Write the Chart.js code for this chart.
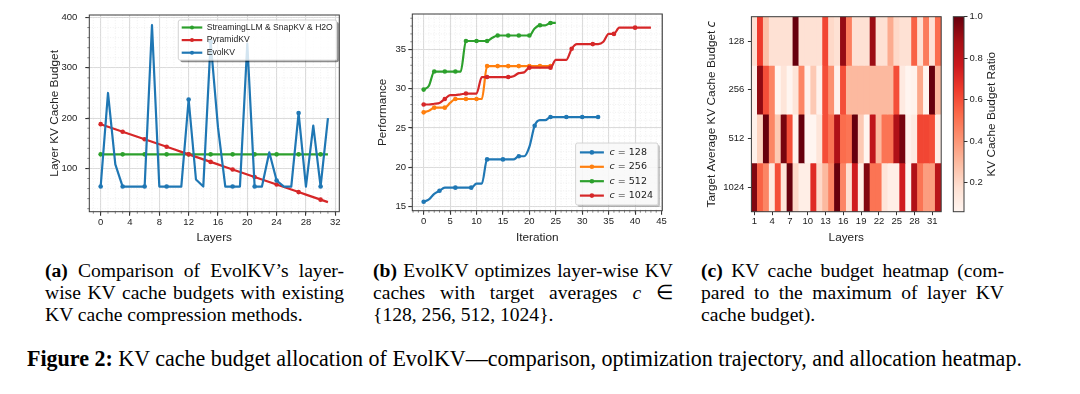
<!DOCTYPE html>
<html>
<head>
<meta charset="utf-8">
<script src="https://cdn.jsdelivr.net/npm/chart.js@4.4.0/dist/chart.umd.min.js"></script>
<style>
  body { margin: 0; width: 1080px; height: 394px; background: #fff; position: relative; overflow: hidden; }
  canvas { position: absolute; top: 0; }
  .cap { position: absolute; white-space: nowrap; font-family: "Liberation Serif", "Times New Roman", serif;
         font-size: 19.6px; line-height: 22px; color: #000; }
  .cap.fit { line-height: 26px; }
</style>
</head>
<body>
<canvas id="chartA" width="320" height="245" style="left:30px"></canvas>
<canvas id="chartB" width="310" height="245" style="left:360px"></canvas>
<canvas id="chartC" width="260" height="245" style="left:690px"></canvas>
<canvas id="chartCB" width="135" height="245" style="left:945px"></canvas>

<div class="cap just" data-w="299" style="left:45px;top:260px"><b>(a)</b> Comparison of EvolKV’s layer-</div>
<div class="cap just" data-w="299" style="left:45px;top:282px">wise KV cache budgets with existing</div>
<div class="cap" style="left:45px;top:304px">KV cache compression methods.</div>

<div class="cap just" data-w="300" style="left:373px;top:260px"><b>(b)</b> EvolKV optimizes layer-wise KV</div>
<div class="cap just" data-w="300" style="left:373px;top:282px">caches with target averages <i>c</i> ∈</div>
<div class="cap" style="left:373px;top:304px">{128, 256, 512, 1024}.</div>

<div class="cap just" data-w="303" style="left:701px;top:260px"><b>(c)</b> KV cache budget heatmap (com-</div>
<div class="cap just" data-w="303" style="left:701px;top:282px">pared to the maximum of layer KV</div>
<div class="cap" style="left:701px;top:304px">cache budget).</div>

<div class="cap fit" data-w="995" style="left:27px;top:346px"><b>Figure 2:</b> KV cache budget allocation of EvolKV—comparison, optimization trajectory, and allocation heatmap.</div>

<script>
// ---------------- DATA ----------------

// (a) layer-wise budgets
const layerIdx = [0, 1, 2, 3, 4, 5, 6, 7, 8, 9, 10, 11, 12, 13, 14, 15,
                  16, 17, 18, 19, 20, 21, 22, 23, 24, 25, 26, 27, 28, 29, 30, 31];
const streamingBudget = [128, 128, 128, 128, 128, 128, 128, 128, 128, 128, 128, 128, 128, 128, 128, 128,
                         128, 128, 128, 128, 128, 128, 128, 128, 128, 128, 128, 128, 128, 128, 128, 128];
const pyramidBudget = [188, 183, 178, 173, 168, 163, 158, 153, 148, 143, 138, 133, 128, 123, 118, 113,
                       108, 103, 98, 93, 88, 83, 78, 73, 68, 63, 58, 53, 48, 43, 38, 33];
const evolBudget = [64, 250, 108, 64, 64, 64, 64, 385, 64, 64, 64, 64, 237, 78, 64, 352,
                    182, 64, 64, 64, 348, 64, 64, 132, 76, 64, 64, 210, 64, 185, 64, 200];
const xTicksA = [0, 4, 8, 12, 16, 20, 24, 28, 32];
const yTicksA = [100, 200, 300, 400];

// (b) performance per iteration
const perf128 = [15.6, 15.9, 16.6, 17.0, 17.4, 17.4, 17.4, 17.4, 17.4, 17.4, 17.9, 17.9, 21.0, 21.0, 21.0, 21.0,
                 21.0, 21.0, 21.4, 21.4, 22.6, 25.3, 26.0, 26.0, 26.4, 26.4, 26.4, 26.4, 26.4, 26.4, 26.4, 26.4,
                 26.4, 26.4];
const perf256 = [27.0, 27.2, 27.6, 27.6, 27.6, 28.2, 28.7, 28.7, 28.7, 28.7, 28.7, 28.7, 32.9, 32.9, 32.9, 32.9,
                 32.9, 32.9, 32.9, 32.9, 32.9, 32.9, 32.9, 32.9, 32.9];
const perf512 = [29.9, 30.4, 32.2, 32.2, 32.2, 32.2, 32.2, 32.2, 36.1, 36.1, 36.1, 36.1, 36.1, 36.5, 36.8, 36.8,
                 36.8, 36.8, 36.8, 36.8, 36.8, 37.7, 38.1, 38.1, 38.4, 38.4];
const perf1024 = [28.0, 28.0, 28.1, 28.2, 28.7, 29.2, 29.2, 29.3, 29.4, 29.4, 29.4, 31.5, 31.5, 31.5, 31.5, 31.5,
                  31.5, 31.6, 32.0, 32.1, 32.7, 32.7, 32.7, 32.7, 32.7, 33.7, 33.7, 33.7, 35.1, 35.7, 35.7, 35.7,
                  35.7, 35.7, 36.0, 37.0, 37.0, 37.8, 37.8, 37.8, 37.8, 37.8, 37.8, 37.8];
const xTicksB = [0, 5, 10, 15, 20, 25, 30, 35, 40, 45];
const yTicksB = [15, 20, 25, 30, 35];

// (c) budget ratio heatmap
const budgets = ['128', '256', '512', '1024'];
const heatLayers = ['1', '2', '3', '4', '5', '6', '7', '8', '9', '10', '11', '12', '13', '14', '15', '16',
                    '17', '18', '19', '20', '21', '22', '23', '24', '25', '26', '27', '28', '29', '30', '31', '32'];
const ratio128 = [0.17, 0.65, 0.28, 0.17, 0.17, 0.17, 0.17, 1.00, 0.17, 0.17, 0.17, 0.17, 0.62, 0.20, 0.17, 0.91,
                  0.47, 0.17, 0.17, 0.17, 0.90, 0.17, 0.17, 0.34, 0.20, 0.17, 0.17, 0.55, 0.17, 0.48, 0.17, 0.52];
const ratio256 = [0.08, 0.92, 0.60, 0.45, 0.06, 0.15, 0.06, 0.15, 0.45, 0.08, 0.25, 0.08, 0.60, 0.42, 0.08, 0.60,
                  0.30, 0.30, 0.30, 0.30, 0.30, 0.30, 0.30, 0.30, 0.60, 0.12, 0.06, 0.07, 0.35, 0.05, 1.00, 0.30];
const ratio512 = [0.08, 0.22, 1.00, 0.45, 0.25, 0.97, 0.60, 0.07, 1.00, 0.05, 0.05, 0.15, 0.60, 0.50, 0.85, 0.52,
                  0.50, 1.00, 0.25, 0.05, 0.80, 0.30, 0.50, 0.50, 0.85, 0.97, 0.08, 0.12, 0.62, 0.62, 0.60, 0.10];
const ratio1024 = [0.95, 0.55, 0.45, 0.12, 0.60, 0.15, 1.00, 0.20, 0.10, 0.10, 0.70, 0.20, 0.30, 0.45, 1.00, 0.45,
                   0.18, 0.75, 0.10, 0.95, 0.50, 0.50, 0.15, 0.10, 0.10, 0.75, 0.06, 0.85, 0.50, 0.38, 0.38, 0.82];
const cbRange = [0.06, 1.0];
const cbTicks = [0.2, 0.4, 0.6, 0.8, 1.0];


// ---------------- HELPERS ----------------

const SANS = '"Liberation Sans", Arial, sans-serif';
const MATH = '"DejaVu Sans", sans-serif';
const TICK = 9.5, TITLE = 11.8;

Chart.defaults.font.family = SANS;
Chart.defaults.color = '#222';
Chart.defaults.animation = false;
Chart.defaults.plugins.legend.display = false;
Chart.defaults.plugins.tooltip.enabled = false;

// matplotlib "Reds"
const redsStops = ['#fff5f0', '#fee0d2', '#fcbba1', '#fc9272', '#fb6a4a', '#ef3b2c', '#cb181d', '#a50f15', '#67000d'];
function hexRgb(h) { return [1, 3, 5].map(i => parseInt(h.substr(i, 2), 16)); }
function reds(t) {
  t = Math.min(1, Math.max(0, t));
  const pos = t * (redsStops.length - 1);
  const i = Math.min(redsStops.length - 2, Math.floor(pos));
  const f = pos - i;
  const a = hexRgb(redsStops[i]), b = hexRgb(redsStops[i + 1]);
  const c = a.map((v, k) => Math.round(v + (b[k] - v) * f));
  return `rgb(${c[0]}, ${c[1]}, ${c[2]})`;
}
const ratioColor = v => reds((v - cbRange[0]) / (cbRange[1] - cbRange[0]));

// axes frame (all four spines)
const mplFrame = {
  id: 'mplFrame',
  afterDatasetsDraw(chart) {
    const { ctx, chartArea: a } = chart;
    ctx.save();
    ctx.strokeStyle = '#3a3a3a';
    ctx.lineWidth = 1;
    ctx.strokeRect(a.left, a.top, a.right - a.left, a.bottom - a.top);
    ctx.restore();
  }
};

// dotted minor grid + minor tick marks
const mplMinor = {
  id: 'mplMinor',
  beforeDatasetsDraw(chart, args, o) {
    if (!o.x) return;
    const { ctx, chartArea: a, scales } = chart;
    const vals = (s, step) => {
      const out = [];
      for (let k = Math.ceil(s.min / step); k * step <= s.max; k++) out.push(k * step);
      return out;
    };
    const xs = vals(scales.x, o.x).map(v => scales.x.getPixelForValue(v));
    const ys = vals(scales.y, o.y).map(v => scales.y.getPixelForValue(v));
    ctx.save();
    ctx.strokeStyle = '#e6e6e6';
    ctx.lineWidth = 0.6;
    ctx.setLineDash([1, 1.6]);
    ctx.beginPath();
    xs.forEach(x => { ctx.moveTo(x, a.top); ctx.lineTo(x, a.bottom); });
    ys.forEach(y => { ctx.moveTo(a.left, y); ctx.lineTo(a.right, y); });
    ctx.stroke();
    ctx.setLineDash([]);
    ctx.strokeStyle = '#555';
    ctx.lineWidth = 0.7;
    ctx.beginPath();
    xs.forEach(x => { ctx.moveTo(x, a.bottom); ctx.lineTo(x, a.bottom + 2); });
    ys.forEach(y => { ctx.moveTo(a.left, y); ctx.lineTo(a.left - 2, y); });
    ctx.stroke();
    ctx.restore();
  }
};

// matplotlib-like legend box inside the axes
const mplLegend = {
  id: 'mplLegend',
  afterDatasetsDraw(chart, args, o) {
    if (!o.size) return;
    const { ctx, chartArea: a } = chart;
    const items = chart.data.datasets;
    const reg = `${o.size}px ${o.family}`, ita = `italic ${o.size}px ${o.family}`;
    ctx.save();
    const textW = it => {
      if (!o.mathC) { ctx.font = reg; return ctx.measureText(it.label).width; }
      ctx.font = ita; const w1 = ctx.measureText(it.label[0]).width;
      ctx.font = reg; return w1 + ctx.measureText(it.label.slice(1)).width;
    };
    const tw = Math.max(...items.map(textW));
    const w = o.padL + o.handle + o.gap + tw + o.padR;
    const h = items.length * o.rowH + 2 * o.padV;
    const x = a.right - o.dx - w;
    const y = o.corner === 'upper' ? a.top + o.dy : a.bottom - o.dy - h;

    // shadow, only outside the box
    ctx.save();
    ctx.beginPath();
    ctx.rect(0, 0, chart.width, chart.height);
    ctx.rect(x, y, w, h);
    ctx.clip('evenodd');
    ctx.fillStyle = o.shadow;
    ctx.beginPath(); ctx.roundRect(x + 2, y + 2, w, h, 2); ctx.fill();
    ctx.restore();

    ctx.fillStyle = o.fill;
    ctx.strokeStyle = o.edge;
    ctx.lineWidth = 0.8;
    ctx.beginPath(); ctx.roundRect(x, y, w, h, 2); ctx.fill(); ctx.stroke();

    items.forEach((it, i) => {
      const cy = y + o.padV + o.rowH * (i + 0.5);
      const hx = x + o.padL;
      ctx.strokeStyle = it.borderColor;
      ctx.lineWidth = it.borderWidth;
      ctx.beginPath(); ctx.moveTo(hx, cy); ctx.lineTo(hx + o.handle, cy); ctx.stroke();
      ctx.fillStyle = it.borderColor;
      ctx.beginPath(); ctx.arc(hx + o.handle / 2, cy, o.marker, 0, 2 * Math.PI); ctx.fill();
      ctx.fillStyle = '#222';
      ctx.textBaseline = 'middle';
      ctx.textAlign = 'left';
      let tx = hx + o.handle + o.gap;
      if (o.mathC) {
        ctx.font = ita; ctx.fillText(it.label[0], tx, cy);
        tx += ctx.measureText(it.label[0]).width;
        ctx.font = reg; ctx.fillText(it.label.slice(1), tx, cy);
      } else {
        ctx.font = reg; ctx.fillText(it.label, tx, cy);
      }
    });
    ctx.restore();
  }
};

// rotated axis label made of plain / italic parts
const sideLabel = {
  id: 'sideLabel',
  afterDraw(chart, args, o) {
    if (!o.parts) return;
    const { ctx, chartArea: a } = chart;
    ctx.save();
    ctx.translate(o.x, (a.top + a.bottom) / 2);
    ctx.rotate(-Math.PI / 2);
    ctx.textBaseline = 'middle';
    ctx.textAlign = 'left';
    ctx.fillStyle = '#222';
    const parts = o.parts.map(p => ({
      text: p.text,
      font: p.italic ? `italic ${o.size}px ${MATH}` : `${o.size}px ${SANS}`
    }));
    let total = 0;
    parts.forEach(p => { ctx.font = p.font; p.w = ctx.measureText(p.text).width; total += p.w; });
    let tx = -total / 2;
    parts.forEach(p => { ctx.font = p.font; ctx.fillText(p.text, tx, 0); tx += p.w; });
    ctx.restore();
  }
};

function lineSet(label, xs, ys, color, markEvery, order, smooth) {
  return {
    label: label,
    data: ys.map((v, i) => ({ x: xs ? xs[i] : i, y: v })),
    borderColor: color,
    backgroundColor: color,
    pointBackgroundColor: color,
    borderWidth: 2.2,
    borderJoinStyle: 'round',
    pointBorderWidth: 0,
    pointRadius: ctx => (ctx.dataIndex % ctx.dataset.markEvery === 0 ? 2.3 : 0),
    markEvery: markEvery,
    order: order,
    tension: 0,
    cubicInterpolationMode: smooth ? 'monotone' : 'default'
  };
}

function lineChart(id, datasets, o) {
  return new Chart(document.getElementById(id), {
    type: 'line',
    data: { datasets: datasets },
    options: {
      responsive: false,
      devicePixelRatio: 1,
      layout: { padding: { left: 0, right: o.padR, top: o.padT, bottom: 0 } },
      scales: {
        x: {
          type: 'linear', min: o.xMin, max: o.xMax,
          afterBuildTicks: s => { s.ticks = o.xTicks.map(v => ({ value: v })); },
          afterFit: s => { s.height = o.xH; },
          ticks: { font: { size: TICK }, padding: o.xPad, maxRotation: 0, autoSkip: false },
          grid: { color: '#dadada', lineWidth: 1.1, tickColor: '#333', tickLength: 4 },
          border: { display: false },
          title: { display: true, text: o.xTitle, color: '#222', font: { size: TITLE }, padding: { top: 1.9, bottom: 0 } }
        },
        y: {
          type: 'linear', min: o.yMin, max: o.yMax,
          afterBuildTicks: s => { s.ticks = o.yTicks.map(v => ({ value: v })); },
          afterFit: s => { s.width = o.yW; },
          ticks: { font: { size: TICK }, padding: o.yPad, autoSkip: false },
          grid: { color: '#dadada', lineWidth: 1.1, tickColor: '#333', tickLength: 4 },
          border: { display: false },
          title: { display: true, text: o.yTitle, color: '#222', font: { size: TITLE }, padding: { top: o.yTitlePad, bottom: 0 } }
        }
      },
      plugins: {
        mplMinor: o.minor,
        mplLegend: o.legend
      }
    },
    plugins: [mplMinor, mplFrame, mplLegend]
  });
}


// ------------ (a) LAYER BUDGETS ------------------

lineChart('chartA', [
  lineSet('StreamingLLM & SnapKV & H2O', layerIdx, streamingBudget, '#2ca02c', 3, 3, false),
  lineSet('PyramidKV', layerIdx, pyramidBudget, '#d62728', 3, 2, false),
  lineSet('EvolKV', layerIdx, evolBudget, '#1f77b4', 3, 1, false)
], {
  padR: 10.7, padT: 15, xH: 33.3, yW: 59.3,
  xMin: -1.55, xMax: 32.55, yMin: 14, yMax: 405,
  xTicks: xTicksA, yTicks: yTicksA,
  xPad: 0.5, yPad: 8, yTitlePad: 17.9,
  xTitle: 'Layers', yTitle: 'Layer KV Cache Budget',
  minor: { x: 1, y: 20 },
  legend: { corner: 'upper', family: SANS, size: 8.6, padL: 3.4, handle: 20.6, gap: 4.4, padR: 4, rowH: 12.6, padV: 1.2,
            marker: 2, dx: 2.5, dy: 5, fill: 'rgba(255,255,255,0.8)', edge: '#c8c8c8', shadow: 'rgba(0,0,0,0.45)' }
});


// ------------ (b) OPTIMIZATION TRAJECTORY ------------------

lineChart('chartB', [
  lineSet('c = 128', null, perf128, '#1f77b4', 3, 4, true),
  lineSet('c = 256', null, perf256, '#ff7f0e', 2, 3, true),
  lineSet('c = 512', null, perf512, '#2ca02c', 2, 2, true),
  lineSet('c = 1024', null, perf1024, '#d62728', 4, 1, true)
], {
  padR: 7.7, padT: 14, xH: 34.3, yW: 52.3,
  xMin: -2.15, xMax: 45.15, yMin: 14.46, yMax: 39.54,
  xTicks: xTicksB, yTicks: yTicksB,
  xPad: 1.3, yPad: 2.3, yTitlePad: 15.9,
  xTitle: 'Iteration', yTitle: 'Performance',
  minor: { x: 1, y: 1 },
  legend: { corner: 'lower', mathC: true, family: MATH, size: 9.5, padL: 4.3, handle: 24, gap: 5.7, padR: 5, rowH: 14.4, padV: 2.2,
            marker: 2.3, dx: 4.3, dy: 5.7, fill: 'rgba(248,248,248,0.85)', edge: '#cccccc', shadow: 'rgba(0,0,0,0.22)' }
});


// ------------ (c) HEATMAP ------------------

const heatRows = [ratio128, ratio256, ratio512, ratio1024];

new Chart(document.getElementById('chartC'), {
  type: 'bar',
  data: {
    labels: heatLayers,
    datasets: heatRows.map((row, i) => ({
      label: budgets[i],
      data: row.map(() => 1),
      backgroundColor: row.map(ratioColor),
      borderWidth: 0,
      barPercentage: 1,
      categoryPercentage: 1
    }))
  },
  options: {
    responsive: false,
    devicePixelRatio: 1,
    layout: { padding: { left: 0, right: 8.8, top: 16.7, bottom: 0 } },
    scales: {
      x: {
        stacked: true,
        afterBuildTicks: s => { s.ticks = s.ticks.filter((t, i) => i % 3 === 0); },
        afterFit: s => { s.height = 33.3; },
        ticks: { font: { size: TICK }, padding: 0.5, maxRotation: 0, autoSkip: false },
        grid: { display: true, offset: false, drawOnChartArea: false, tickLength: 3.5, tickColor: '#333' },
        border: { display: false },
        title: { display: true, text: 'Layers', color: '#222', font: { size: TITLE }, padding: { top: 1.9, bottom: 0 } }
      },
      y: {
        stacked: true, min: 0, max: 4, reverse: true,
        afterBuildTicks: s => { s.ticks = budgets.map((b, i) => ({ value: i + 0.5 })); },
        afterFit: s => { s.width = 61.4; },
        ticks: { font: { size: TICK }, padding: 3.6, autoSkip: false, callback: (v, i) => budgets[i] },
        grid: { display: true, drawOnChartArea: false, tickLength: 3.5, tickColor: '#333' },
        border: { display: false }
      }
    },
    plugins: {
      sideLabel: { x: 21.7, size: TITLE, parts: [{ text: 'Target Average KV Cache Budget ' }, { text: 'c', italic: true }] }
    }
  },
  plugins: [mplFrame, sideLabel]
});

// colorbar
new Chart(document.getElementById('chartCB'), {
  type: 'bar',
  data: {
    labels: ['ratio'],
    datasets: [{
      data: [cbRange],
      borderWidth: 0,
      barPercentage: 1,
      categoryPercentage: 1,
      backgroundColor: ctx => {
        const y = ctx.chart.scales.y;
        if (!y || !ctx.chart.chartArea) return 'rgba(0,0,0,0)';
        const g = ctx.chart.ctx.createLinearGradient(0, y.getPixelForValue(cbRange[0]), 0, y.getPixelForValue(cbRange[1]));
        redsStops.forEach((c, i) => g.addColorStop(i / (redsStops.length - 1), c));
        return g;
      }
    }]
  },
  options: {
    responsive: false,
    devicePixelRatio: 1,
    layout: { padding: { left: 8.3, right: 0, top: 16.7, bottom: 33.3 } },
    scales: {
      x: { display: false },
      y: {
        position: 'right', min: cbRange[0], max: cbRange[1],
        afterBuildTicks: s => { s.ticks = cbTicks.map(v => ({ value: v })); },
        afterFit: s => { s.width = 116; },
        ticks: { font: { size: TICK }, padding: 2, autoSkip: false, callback: v => v.toFixed(1) },
        grid: { display: true, drawOnChartArea: false, tickLength: 3.5, tickColor: '#333' },
        border: { display: false }
      }
    },
    plugins: {
      sideLabel: { x: 46.7, size: TITLE, parts: [{ text: 'KV Cache Budget Ratio' }] }
    }
  },
  plugins: [mplFrame, sideLabel]
});


// ------------ CAPTIONS (justify lines to the measured widths) ------------------

document.querySelectorAll('.cap.just').forEach(el => {
  const target = +el.dataset.w;
  const w = el.getBoundingClientRect().width;
  const n = (el.textContent.match(/ /g) || []).length;
  if (n) el.style.wordSpacing = ((target - w) / n) + 'px';
});
document.querySelectorAll('.cap.fit').forEach(el => {
  const target = +el.dataset.w;
  const w = el.getBoundingClientRect().width;
  const size = Math.min(24, Math.max(18, 19.6 * target / w));
  el.style.fontSize = size + 'px';
});
</script>
</body>
</html>
